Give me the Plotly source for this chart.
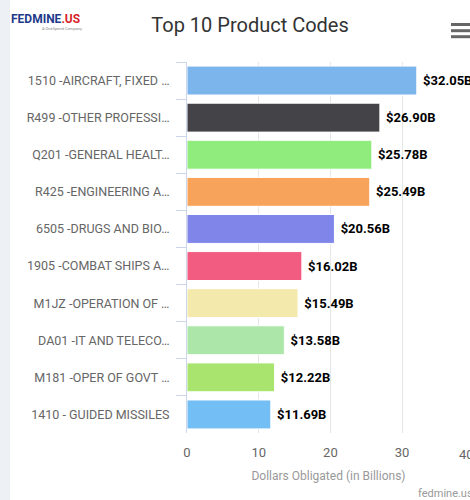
import plotly.graph_objects as go

categories = [
    "1510 -AIRCRAFT, FIXED …",
    "R499 -OTHER PROFESSI…",
    "Q201 -GENERAL HEALT…",
    "R425 -ENGINEERING A…",
    "6505 -DRUGS AND BIO…",
    "1905 -COMBAT SHIPS A…",
    "M1JZ -OPERATION OF …",
    "DA01 -IT AND TELECO…",
    "M181 -OPER OF GOVT …",
    "1410 - GUIDED MISSILES",
]
values = [32.05, 26.90, 25.78, 25.49, 20.56, 16.02, 15.49, 13.58, 12.22, 11.69]
colors = ["#7cb5ec", "#434348", "#90ed7d", "#f7a35c", "#8085e9",
          "#f15c80", "#f3e9ac", "#ace6a8", "#a9e46f", "#73bff5"]
x_ticks = [0, 10, 20, 30]
x_max_visible = 39.47
cut_tick = "40"

W, H = 470, 500
L, R, T, B = 187, 0, 62, 67
pw, ph = W - L - R, H - T - B

def px_x(px):
    return (px - L) / pw

def px_y(py):
    return (H - B - py) / ph

fig = go.Figure(go.Bar(
    x=values, y=categories, orientation="h",
    marker=dict(color=colors, line=dict(color="white", width=1)),
    width=0.78,
    text=["\u00a0<b>$%.2fB</b>" % v for v in values],
    textposition="outside",
    textfont=dict(family="Roboto", size=13, color="#000000"),
    cliponaxis=False,
    hoverinfo="skip",
))

fig.update_layout(
    width=W, height=H,
    margin=dict(l=L, r=R, t=T, b=B),
    paper_bgcolor="white", plot_bgcolor="white",
    showlegend=False,
    font=dict(family="Roboto", color="#666666"),
    title=dict(text="Top 10 Product Codes", x=0.532, xanchor="center",
               y=1 - 25 / H, yanchor="middle", yref="container",
               font=dict(size=20, color="#333333", family="Roboto")),
    xaxis=dict(range=[0, x_max_visible], tickvals=x_ticks, showgrid=True,
               gridcolor="#e6e6e6", gridwidth=1, zeroline=False,
               showline=False, ticks="", ticklabelstandoff=10,
               tickfont=dict(size=13, color="#666666"),
               title=dict(text="Dollars Obligated (in Billions)",
                          font=dict(size=12, color="#999999"), standoff=12)),
    yaxis=dict(autorange="reversed", type="category", showline=True,
               linecolor="#ccd6eb", linewidth=1, ticks="outside",
               tickson="boundaries", ticklen=10, tickcolor="#ccd6eb",
               ticklabelstandoff=14,
               tickfont=dict(size=12.5, color="#666666"), showgrid=False),
)

# "40" tick label, pushed in from the edge and partially cut off
fig.add_annotation(x=px_x(466), y=0, xref="paper", yref="paper",
                   text=cut_tick, showarrow=False, yanchor="top",
                   xanchor="center", yshift=-12,
                   font=dict(size=13, color="#666666"))

# left gray strip
fig.add_shape(type="rect", xref="paper", yref="paper",
              x0=px_x(-3), x1=px_x(10), y0=px_y(H + 3), y1=px_y(-3),
              fillcolor="#edf0f5", line=dict(width=0), layer="below")

# logo
fig.add_annotation(xref="paper", yref="paper", x=px_x(9), y=px_y(19),
                   xanchor="left", yanchor="middle", showarrow=False,
                   text="<b><span style='color:#1f3a8a'>FEDMINE</span><span style='color:#d81f2a'>.US</span></b>",
                   font=dict(size=12, family="Roboto"))
fig.add_annotation(xref="paper", yref="paper", x=px_x(40), y=px_y(29),
                   xanchor="left", yanchor="middle", showarrow=False,
                   text="A OneSpend Company", font=dict(size=4, color="#888888"))

# hamburger menu
for py in [24.5, 30.7, 36.7]:
    fig.add_shape(type="line", xref="paper", yref="paper",
                  x0=px_x(451), x1=px_x(470), y0=px_y(py), y1=px_y(py),
                  line=dict(color="#666666", width=3))

# footer credit
fig.add_annotation(xref="paper", yref="paper", x=px_x(416), y=px_y(493),
                   xanchor="left", yanchor="middle", showarrow=False,
                   text="fedmine.us", font=dict(size=11, color="#999999"))

fig.write_html("out.html", config={"displayModeBar": False},
               post_script="document.body.style.margin='0';document.body.style.overflow='hidden';")
